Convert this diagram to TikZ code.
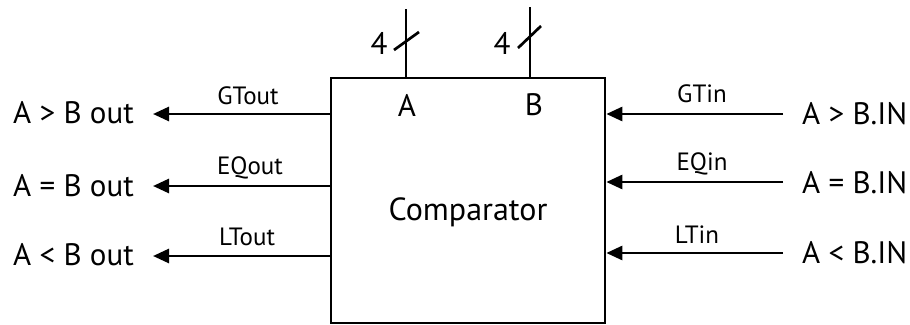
\documentclass[tikz,border=0pt]{standalone}
\usepackage{fontspec}
\setmainfont{PT Sans}
\usetikzlibrary{arrows.meta}
\begin{document}
\begin{tikzpicture}[x=1pt,y=-1pt,
  wire/.style={line width=2.7pt},
  sig/.style={wire,-{Triangle[length=16pt,width=14pt]}},
  big/.style={font=\fontsize{31}{34}\selectfont,inner sep=0pt},
  small/.style={font=\fontsize{25}{28}\selectfont,inner sep=0pt},
]
\useasboundingbox (0,0) rectangle (910,324);
\node[draw,line width=2.7pt,minimum width=274pt,minimum height=245pt,inner sep=0pt] (cmp) at (468,200.5) {};
\node[font=\fontsize{32}{36}\selectfont,inner sep=0pt] (ctext) at (468,212) {Comparator};
\node[big] (pa) at (407,105) {A};
\node[big] (pb) at (534,105) {B};
% bus lines
\coordinate (ta) at (406,9);
\coordinate (tb) at (530,7);
\draw[wire] (ta) -- (ta |- cmp.north);
\draw[wire] (tb) -- (tb |- cmp.north);
\coordinate (sa1) at (394,50); \coordinate (sa2) at (419,32);
\coordinate (sb1) at (518,48); \coordinate (sb2) at (541,26);
\draw[wire] (sa1) -- (sa2);
\draw[wire] (sb1) -- (sb2);
\node[big] (na) at (379,43) {4};
\node[big] (nb) at (502,43) {4};
% left outputs
\node[big,anchor=east] (og) at (134,113) {A > B out};
\node[big,anchor=east] (oe) at (134,186) {A = B out};
\node[big,anchor=east] (ol) at (134,255) {A < B out};
\coordinate (cg) at (153,114);
\coordinate (ce) at (153,186);
\coordinate (cl) at (153,256);
\draw[sig] (cg -| cmp.west) -- (cg);
\draw[sig] (ce -| cmp.west) -- (ce);
\draw[sig] (cl -| cmp.west) -- (cl);
\node[small] at (248,96) {GTout};
\node[small] at (250,168) {EQout};
\node[small] at (247,237) {LTout};
% right inputs
\node[big,anchor=west] (ig) at (802,114) {A > B.IN};
\node[big,anchor=west] (ie) at (802,183) {A = B.IN};
\node[big,anchor=west] (il) at (802,253) {A < B.IN};
\coordinate (dg) at (783,114);
\coordinate (de) at (783,182);
\coordinate (dl) at (783,253);
\draw[sig] (dg) -- (dg -| cmp.east);
\draw[sig] (de) -- (de -| cmp.east);
\draw[sig] (dl) -- (dl -| cmp.east);
\node[small] at (702,94) {GTin};
\node[small] at (702,164) {EQin};
\node[small] at (697,235) {LTin};
\end{tikzpicture}
\end{document}
